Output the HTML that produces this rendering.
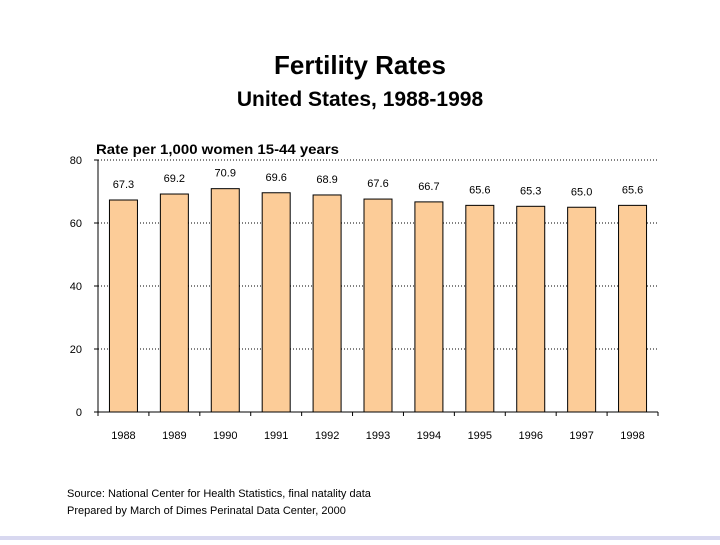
<!DOCTYPE html>
<html><head><meta charset="utf-8"><style>
body{margin:0;width:720px;height:540px;background:#fff;overflow:hidden;font-family:"Liberation Sans",sans-serif}
</style></head><body>
<svg id="c" width="720" height="540" font-family="Liberation Sans, sans-serif">
<text x="360" y="74" text-anchor="middle" font-size="26" font-weight="bold">Fertility Rates</text>
<text x="360" y="106" text-anchor="middle" font-size="21" font-weight="bold">United States, 1988-1998</text>
<text x="96" y="154" font-size="14" font-weight="bold" textLength="243" lengthAdjust="spacingAndGlyphs">Rate per 1,000 women 15-44 years</text>
<g id="grid"></g><g id="bars"></g><g id="axes"></g>
<text x="67" y="497" font-size="11">Source: National Center for Health Statistics, final natality data</text>
<text x="67" y="514" font-size="11">Prepared by March of Dimes Perinatal Data Center, 2000</text>
<rect x="0" y="536" width="720" height="4" fill="#d8d8f0"/>
</svg>
<script>
const categories=["1988","1989","1990","1991","1992","1993","1994","1995","1996","1997","1998"];
const rates=[67.3,69.2,70.9,69.6,68.9,67.6,66.7,65.6,65.3,65.0,65.6];
const yTicks=[0,20,40,60,80];
const NS="http://www.w3.org/2000/svg";
const x0=98,x1=658,y0=412,y1=160,yMax=80;
const y=v=>y0-(y0-y1)*v/yMax;
const band=(x1-x0)/categories.length;
const xc=i=>x0+band*(i+0.5);
function mk(tag,attrs,parent,text){const e=document.createElementNS(NS,tag);for(const k in attrs)e.setAttribute(k,attrs[k]);if(text!=null)e.textContent=text;parent.appendChild(e);return e;}
const grid=document.getElementById('grid'),bars=document.getElementById('bars'),axes=document.getElementById('axes');
yTicks.forEach(t=>{
  if(t>0){const l=mk('line',{x1:x0,x2:x1,y1:y(t),y2:y(t),stroke:'#000','stroke-dasharray':'1,2','stroke-width':1},grid);
  
  }
  const tk=mk('line',{x1:x0-4,x2:x0,y1:y(t),y2:y(t),stroke:'#000'},axes);
  
  
  const tl=mk('text',{x:x0-16,y:y(t)+4,'font-size':11,'text-anchor':'end'},axes,String(t));
  
  
});
categories.forEach((c,i)=>{
  const w=28,v=rates[i];
  const r=mk('rect',{x:xc(i)-w/2,y:y(v),width:w,height:y0-y(v),fill:'#fccc98',stroke:'#000','stroke-width':1},bars);
  
  
  const t=mk('text',{x:xc(i),y:y(v)-12,'font-size':11,'text-anchor':'middle'},bars,v.toFixed(1));
  
  
  const xl=mk('text',{x:xc(i),y:y0+27,'font-size':11,'text-anchor':'middle'},axes,c);
  
  
});
for(let i=0;i<=categories.length;i++){
  const tk=mk('line',{x1:x0+band*i,x2:x0+band*i,y1:y0,y2:y0+4,stroke:'#000'},axes);
  
  
}
const ya=mk('line',{x1:x0,x2:x0,y1:y1,y2:y0,stroke:'#000'},axes);


const xa=mk('line',{x1:x0,x2:x1,y1:y0,y2:y0,stroke:'#000'},axes);


</script>
</body></html>
